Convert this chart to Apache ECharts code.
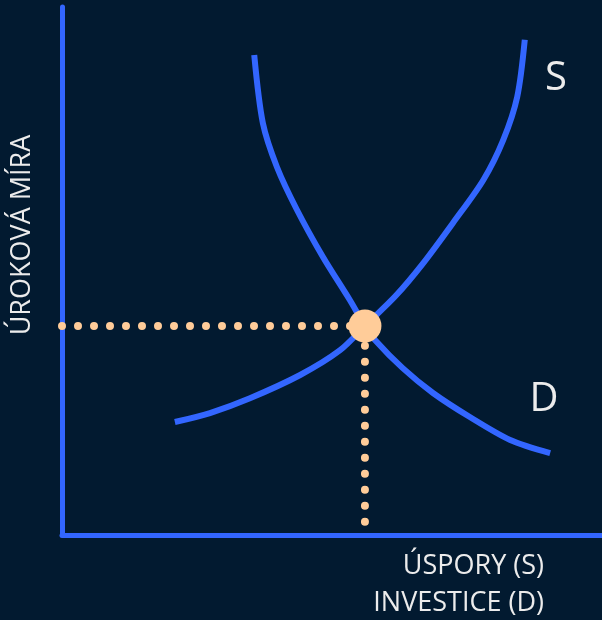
<!DOCTYPE html>
<html><head><meta charset="utf-8">
<script src="https://cdn.jsdelivr.net/npm/echarts@6/dist/echarts.min.js"></script>
<style>html,body{margin:0;padding:0;background:#021a30;}#c{width:602px;height:620px;}</style>
</head><body><div id="c"></div>
<script>
// Supply curve S (savings)
const supplyX = [20.9, 27.4, 34.8, 44.1, 51.5, 56.1, 61.8, 66.9, 72.4, 78.0, 81.7, 84.3, 85.7];
const supplyY = [21.4, 23.1, 25.9, 30.3, 35.0, 39.6, 45.3, 51.5, 59.1, 67.2, 74.8, 83.0, 93.8];
// Demand curve D (investment)
const demandX = [35.6, 37.2, 39.8, 43.5, 48.3, 53.3, 56.1, 58.0, 63.1, 68.7, 75.6, 83.0, 90.4];
const demandY = [90.9, 78.0, 69.7, 61.6, 52.7, 44.5, 39.6, 36.9, 31.6, 26.9, 22.3, 18.0, 15.5];
// Equilibrium
const eqX = 56.1, eqY = 39.6;
const yTitle = 'ÚROKOVÁ MÍRA';
const xTitle1 = 'ÚSPORY (S)';
const xTitle2 = 'INVESTICE (D)';

const BLUE = '#3366ff', PEACH = '#ffcc99', TXT = '#ececec';
const font = '"Open Sans", "Liberation Sans", sans-serif';
const zip = (a, b) => a.map((v, i) => [v, b[i]]);

const chart = echarts.init(document.getElementById('c'));
chart.setOption({
  backgroundColor: '#021a30',
  animation: false,
  grid: {left: 62, right: 0, top: 7, bottom: 85},
  xAxis: {type: 'value', min: 0, max: 100, axisLine: {show: true, onZero: false, lineStyle: {color: BLUE, width: 5}},
    axisTick: {show: false}, axisLabel: {show: false}, splitLine: {show: false}},
  yAxis: {type: 'value', min: 0, max: 100, axisLine: {show: true, onZero: false, lineStyle: {color: BLUE, width: 5}},
    axisTick: {show: false}, axisLabel: {show: false}, splitLine: {show: false}},
  series: [
    {type: 'line', data: [[0, eqY], [eqX, eqY]], showSymbol: false, z: 1,
      lineStyle: {color: PEACH, width: 8, type: [0, 16], cap: 'round'}},
    {type: 'line', data: [[eqX, 2.5], [eqX, eqY]], showSymbol: false, z: 1,
      lineStyle: {color: PEACH, width: 8, type: [0, 16], cap: 'round'}},
    {type: 'line', name: 'S', data: zip(supplyX, supplyY), smooth: 0.3, showSymbol: false, z: 2,
      lineStyle: {color: BLUE, width: 6}},
    {type: 'line', name: 'D', data: zip(demandX, demandY), smooth: 0.3, showSymbol: false, z: 2,
      lineStyle: {color: BLUE, width: 6}},
    {type: 'scatter', data: [[eqX, eqY]], symbolSize: 33, z: 5, itemStyle: {color: PEACH, opacity: 1}}
  ],
  graphic: [
    {type: 'text', x: 556, y: 79, style: {text: 'S', fill: TXT, font: '40px ' + font, align: 'center', verticalAlign: 'middle'}},
    {type: 'text', x: 544, y: 400, style: {text: 'D', fill: TXT, font: '40px ' + font, align: 'center', verticalAlign: 'middle'}},
    {type: 'text', x: 22, y: 235, rotation: Math.PI / 2, style: {text: yTitle, fill: TXT, font: '27px ' + font, align: 'center', verticalAlign: 'middle'}},
    {type: 'text', x: 544, y: 566, style: {text: xTitle1, fill: TXT, font: '27px ' + font, align: 'right', verticalAlign: 'middle'}},
    {type: 'text', x: 544, y: 603, style: {text: xTitle2, fill: TXT, font: '27px ' + font, align: 'right', verticalAlign: 'middle'}}
  ]
});
</script></body></html>
